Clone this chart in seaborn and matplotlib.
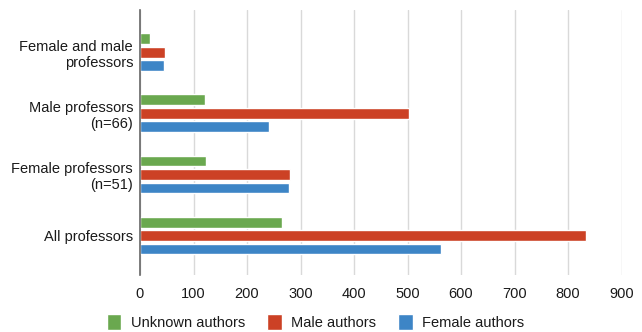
import matplotlib
matplotlib.use("Agg")
import matplotlib.pyplot as plt
import seaborn as sns
import pandas as pd

categories = [
    "Female and male\nprofessors",
    "Male professors\n(n=66)",
    "Female professors\n(n=51)",
    "All professors",
]
series = ["Unknown authors", "Male authors", "Female authors"]
unknown_authors = [19, 122, 124, 265]
male_authors = [47, 503, 280, 833]
female_authors = [44, 242, 278, 562]
x_ticks = [0, 100, 200, 300, 400, 500, 600, 700, 800, 900]
colors = ["#6aa84f", "#cc4125", "#3d85c6"]

rows = []
for name, values in zip(series, [unknown_authors, male_authors, female_authors]):
    for cat, v in zip(categories, values):
        rows.append({"group": cat, "series": name, "count": v})
df = pd.DataFrame(rows)

sns.set_theme(style="white")
plt.rcParams["font.family"] = ["Liberation Sans", "DejaVu Sans"]

fig = plt.figure(figsize=(6.42, 3.32), dpi=100)
ax = fig.add_axes([140 / 642, 1 - 275 / 332, 481.5 / 642, 265 / 332])

sns.barplot(
    data=df, y="group", x="count", hue="series",
    order=categories, hue_order=series, palette=colors,
    orient="h", width=0.66, gap=0.2, errorbar=None,
    saturation=1, ax=ax, legend=True,
)

ax.set_xlim(0, 900)
ax.set_ylim(3.645, -0.69)
ax.set_xticks(x_ticks, labels=[str(t) for t in x_ticks])
ax.set_yticks(range(len(categories)), labels=categories)
ax.xaxis.grid(True, color="#d9d9d9", linewidth=1)
ax.set_axisbelow(True)
for s in ["top", "right", "bottom"]:
    ax.spines[s].set_visible(False)
ax.spines["left"].set_color("#666666")
ax.spines["left"].set_linewidth(1.2)
ax.set_xlabel("")
ax.set_ylabel("")
ax.tick_params(axis="both", length=0, labelsize=10.5, colors="#1a1a1a")
ax.tick_params(axis="x", pad=9)
ax.tick_params(axis="y", pad=5)

ax.get_legend().remove()
handles, labels = ax.get_legend_handles_labels()
fig.legend(
    handles[:3], labels[:3], loc="center", bbox_to_anchor=(315.5 / 642, 1 - 322 / 332),
    ncol=3, frameon=False, fontsize=10.5, handlelength=1.0, handleheight=1.4,
    handletextpad=0.65, columnspacing=1.5, labelcolor="#1a1a1a",
)

fig.savefig("out.png", dpi=100)
